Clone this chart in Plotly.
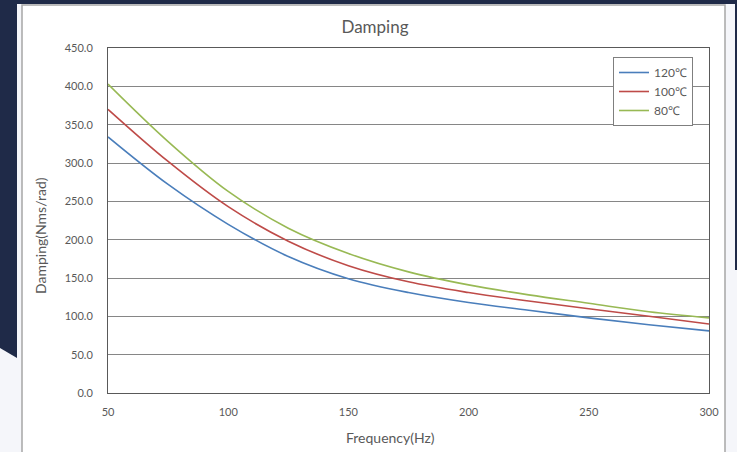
import plotly.graph_objects as go

freq = [50, 75, 100, 125, 150, 175, 200, 225, 250, 275, 300]
d120 = [334, 272, 220, 178, 149, 131, 118, 108, 98, 89, 81]
d100 = [370, 302, 243, 198, 166, 145, 131, 120, 110, 100, 90]
d80 = [403, 328, 263, 215, 182, 158, 141, 128, 117, 106, 98]
series_names = ["120℃", "100℃", "80℃"]
colors = ["#4a7ebb", "#be4b48", "#98b954"]
y_ticks = [0, 50, 100, 150, 200, 250, 300, 350, 400, 450]
x_ticks = [50, 100, 150, 200, 250, 300]

W, H = 737, 452
L, R, T, B = 108, 709, 48, 393

def px(x):
    return (x - L) / (R - L)

def py(y):
    return (B - y) / (B - T)

fig = go.Figure()
for name, vals, c in zip(series_names, [d120, d100, d80], colors):
    fig.add_trace(go.Scatter(x=freq, y=vals, name=name, mode="lines",
                             line=dict(color=c, width=1.6, shape="spline", smoothing=1.0)))

navy = "#1f2a48"
shapes = [
    dict(type="rect", xref="paper", yref="paper", x0=px(0), x1=px(W), y0=py(4), y1=py(-5),
         fillcolor=navy, line=dict(width=0), layer="below"),
    dict(type="path", xref="paper", yref="paper",
         path=f"M {px(0)},{py(-5)} L {px(17)},{py(-5)} L {px(17)},{py(358)} L {px(0)},{py(348)} Z",
         fillcolor=navy, line=dict(width=0), layer="below"),
    dict(type="rect", xref="paper", yref="paper", x0=px(735), x1=px(W + 5), y0=py(270), y1=py(-5),
         fillcolor=navy, line=dict(width=0), layer="below"),
    dict(type="rect", xref="paper", yref="paper", x0=px(22), x1=px(725), y0=py(470), y1=py(5),
         fillcolor="white", line=dict(color="#a6a6a6", width=1.5), layer="below"),
]

fig.update_layout(
    width=W, height=H,
    margin=dict(l=L, r=W - R, t=T, b=H - B),
    paper_bgcolor="#f5f6fa",
    plot_bgcolor="white",
    font=dict(family="Lato, Open Sans, sans-serif", color="#595959", size=11),
    title=dict(text="Damping", x=375 / W, xref="container", xanchor="center",
               y=1 - 27 / H, yref="container", yanchor="middle",
               font=dict(size=17, color="#595959")),
    shapes=shapes,
    showlegend=True,
    legend=dict(x=px(613), y=py(57), xanchor="left", yanchor="top",
                bgcolor="white", bordercolor="#7f7f7f", borderwidth=1,
                font=dict(size=12, color="#595959"), itemwidth=30,
                tracegroupgap=0),
    annotations=[
        dict(text="Damping(Nms/rad)", xref="paper", yref="paper", x=px(40), y=py(236),
             textangle=-90, showarrow=False, font=dict(size=14, color="#595959"),
             xanchor="center", yanchor="middle"),
        dict(text="Frequency(Hz)", xref="paper", yref="paper", x=px(390), y=py(438),
             showarrow=False, font=dict(size=14, color="#595959"),
             xanchor="center", yanchor="middle"),
    ],
)

fig.update_xaxes(range=[50, 300], tickvals=x_ticks, showgrid=False, zeroline=False,
                 showline=True, linecolor="#595959", linewidth=1, mirror=True,
                 ticks="outside", ticklen=9, tickcolor="rgba(0,0,0,0)",
                 tickfont=dict(size=11, color="#595959"))
fig.update_yaxes(range=[0, 450], tickvals=y_ticks, tickformat=".1f",
                 showgrid=True, gridcolor="#868686", gridwidth=1, zeroline=False,
                 showline=True, linecolor="#595959", linewidth=1, mirror=True,
                 ticks="outside", ticklen=12, tickcolor="rgba(0,0,0,0)",
                 tickfont=dict(size=11, color="#595959"))

fig.write_html("out.html", config={"displayModeBar": False},
               post_script="document.body.style.margin='0';document.body.style.overflow='hidden';")
